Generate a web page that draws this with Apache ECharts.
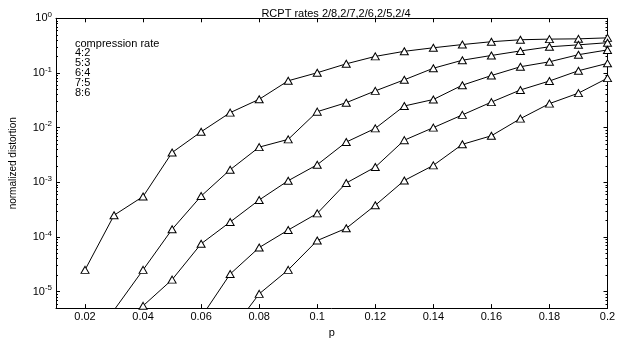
<!DOCTYPE html>
<html>
<head>
<meta charset="utf-8">
<script src="https://cdn.jsdelivr.net/npm/echarts@6/dist/echarts.min.js"></script>
<style>html,body{margin:0;padding:0;background:#fff;}#c{width:624px;height:343px;}</style>
</head>
<body>
<div id="c"></div>
<script>
const titleText = 'RCPT rates 2/8,2/7,2/6,2/5,2/4';
const xValues = [0.02,0.03,0.04,0.05,0.06,0.07,0.08,0.09,0.10,0.11,0.12,0.13,0.14,0.15,0.16,0.17,0.18,0.19,0.20];
const seriesNames = ['4:2','5:3','6:4','7:5','8:6'];
const s42 = [2.5e-5,2.5e-4,5.5e-4,3.5e-3,8.4e-3,0.0188,0.033,0.072,0.101,0.147,0.201,0.249,0.289,0.331,0.373,0.405,0.416,0.421,0.439];
const s53 = [null,4.6e-6,2.5e-5,1.38e-4,5.6e-4,1.7e-3,4.4e-3,6.1e-3,0.0196,0.0286,0.047,0.075,0.122,0.171,0.209,0.253,0.301,0.327,0.358];
const s64 = [null,null,5.5e-6,1.66e-5,7.5e-5,1.88e-4,4.75e-4,1.07e-3,2.1e-3,5.45e-3,9.7e-3,0.0249,0.0327,0.0598,0.0897,0.130,0.160,0.216,0.264];
const s75 = [null,null,null,null,3.4e-6,2.1e-5,6.4e-5,1.34e-4,2.7e-4,9.7e-4,1.9e-3,5.9e-3,0.0100,0.0171,0.0293,0.0489,0.0713,0.110,0.150];
const s86 = [null,null,null,null,null,1.8e-6,9.1e-6,2.5e-5,8.6e-5,1.44e-4,3.8e-4,1.08e-3,2.04e-3,4.95e-3,7.1e-3,0.0146,0.0275,0.0428,0.0804];
const xTicks = [0.02,0.04,0.06,0.08,0.1,0.12,0.14,0.16,0.18,0.2];
const yTicks = [1e-5,1e-4,1e-3,1e-2,1e-1,1];
const legendTitle = 'compression rate';
const xName = 'p';
const yName = 'normalized distortion';

const yMinorTicks = [];
for (let e = -6; e < 0; e++) {
  for (let m = 2; m <= 9; m++) {
    const v = m * Math.pow(10, e);
    if (v >= 5e-6 && v <= 1) yMinorTicks.push(v);
  }
}

const FONT = 'Liberation Sans';
const allSeries = [s42, s53, s64, s75, s86];

function pairs(vals) {
  const out = [];
  vals.forEach((v, i) => { if (v !== null) out.push([xValues[i], v]); });
  return out;
}

function yAxisBase(pos, ticks, len, showLine, showLabel) {
  return {
    type: 'log', logBase: 10, min: 5e-6, max: 1, position: pos,
    splitLine: {show: false},
    axisLine: {show: showLine, lineStyle: {color: '#000', width: 1}},
    axisTick: {show: true, inside: true, length: len, customValues: ticks, lineStyle: {color: '#000', width: 1}},
    axisLabel: {show: showLabel}
  };
}

const chart = echarts.init(document.getElementById('c'), null, {renderer: 'canvas'});
const yMain = yAxisBase('left', yTicks, 4, true, true);
yMain.axisLabel = {
  show: true, customValues: yTicks, margin: 4, color: '#000', fontFamily: FONT, fontSize: 11,
  formatter: function (v) { return '10{s|' + Math.round(Math.log10(v)) + '}'; },
  rich: {s: {fontSize: 8, fontFamily: FONT, color: '#000', verticalAlign: 'bottom', padding: [0, 0, 7, 0]}}
};
yMain.name = yName;
yMain.nameLocation = 'middle';
yMain.nameGap = 38;
yMain.nameTextStyle = {color: '#000', fontFamily: FONT, fontSize: 10};

const option = {
  animation: false,
  backgroundColor: '#fff',
  title: {
    text: titleText, left: 331, top: 3, textAlign: 'center',
    textStyle: {fontFamily: FONT, fontSize: 11, fontWeight: 'normal', color: '#000'}
  },
  graphic: [{
    type: 'text', left: 75, top: 38,
    style: {
      text: [legendTitle].concat(seriesNames).join('\n'),
      font: '11px "Liberation Sans"', lineHeight: 9.8, fill: '#000'
    }
  }],
  grid: {left: 55, right: 16.5, top: 18.3, bottom: 22.5},
  xAxis: [{
    type: 'value', min: 0.01, max: 0.2, position: 'bottom',
    name: xName, nameLocation: 'middle', nameGap: 16,
    nameTextStyle: {color: '#000', fontFamily: FONT, fontSize: 11},
    splitLine: {show: false},
    axisLine: {lineStyle: {color: '#000', width: 1}},
    axisTick: {inside: true, length: 4, customValues: xTicks, lineStyle: {color: '#000'}},
    axisLabel: {customValues: xTicks, color: '#000', fontFamily: FONT, fontSize: 11, margin: 3}
  }, {
    type: 'value', min: 0.01, max: 0.2, position: 'top',
    splitLine: {show: false},
    axisLine: {lineStyle: {color: '#000', width: 1}},
    axisTick: {inside: true, length: 4, customValues: xTicks, lineStyle: {color: '#000'}},
    axisLabel: {show: false}
  }],
  yAxis: [
    yMain,
    yAxisBase('right', yTicks, 4, true, false),
    yAxisBase('left', yMinorTicks, 2, false, false),
    yAxisBase('right', yMinorTicks, 2, false, false)
  ],
  series: allSeries.map((s, i) => ({
    name: seriesNames[i], type: 'line', xAxisIndex: 0, yAxisIndex: 0,
    data: pairs(s), clip: true,
    symbol: 'triangle', symbolSize: [8, 7],
    itemStyle: {color: '#fff', borderColor: '#000', borderWidth: 1},
    lineStyle: {color: '#000', width: 1},
    emphasis: {disabled: true}
  }))
};
chart.setOption(option);
</script>
</body>
</html>
